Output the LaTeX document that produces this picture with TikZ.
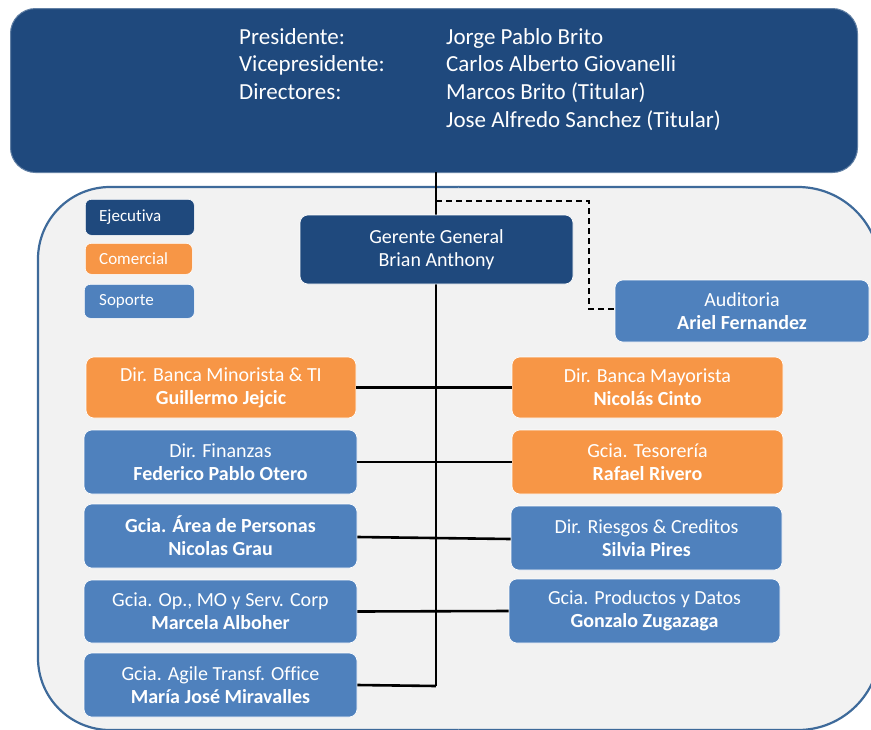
\documentclass[tikz,border=0pt]{standalone}
\usepackage{fontspec}
\setmainfont{Carlito}[Ligatures=NoCommon]
\definecolor{ejec}{HTML}{1F497D}
\definecolor{come}{HTML}{F79646}
\definecolor{sopo}{HTML}{4F81BD}
\definecolor{cont}{HTML}{F2F2F2}
\definecolor{contb}{HTML}{3E6A9A}
\tikzset{
  box/.style={rounded corners=8pt, text=white, align=center, inner sep=0pt,
    font=\fontsize{20}{23}\selectfont, draw=white, line width=0.6pt},
  ejbox/.style={box, fill=ejec},
  cobox/.style={box, fill=come},
  sobox/.style={box, fill=sopo},
  legbox/.style={rounded corners=6pt, text=white, inner sep=0pt, draw=white, line width=0.6pt,
    anchor=north west},
  legtext/.style={anchor=west, text=white, inner sep=0pt, font=\fontsize{17}{19}\selectfont},
  conn/.style={draw=black, line width=2.6pt},
  dconn/.style={draw=black, line width=2.6pt, dash pattern=on 6pt off 4pt},
  contframe/.style={fill=cont, draw=contb, line width=2.2pt}
}
\begin{document}
\begin{tikzpicture}[x=1pt,y=-1pt]
\useasboundingbox (0,0) rectangle (871,729);
% container: left corners r=72, right corners r=82
\begin{scope}
\clip (0,0) rectangle (459,729);
\path[contframe, rounded corners=72pt] (38,187) rectangle (880,730);
\end{scope}
\begin{scope}
\clip (458.5,0) rectangle (871,729);
\path[contframe, rounded corners=82pt] (38,187) rectangle (880,730);
\end{scope}
% top board
\node[fill=ejec, draw=ejec!70!white, line width=1pt, rounded corners=25pt, minimum width=847pt, minimum height=164pt, inner sep=0pt, anchor=north west] (board) at (10,8) {};
\node[anchor=north west, text=white, align=left, inner sep=0pt, font=\fontsize{23}{27.7}\selectfont] (roles) at (239,28)
  {Presidente:\\Vicepresidente:\\Directores:};
\node[anchor=north west, text=white, align=left, inner sep=0pt, font=\fontsize{23}{27.7}\selectfont] (names) at (446,28)
  {Jorge Pablo Brito\\Carlos Alberto Giovanelli\\Marcos Brito (Titular)\\Jose Alfredo Sanchez (Titular)};
% legend
\node[legbox, fill=ejec, minimum width=109pt, minimum height=36pt] (lej) at (85,199) {};
\node[legtext] (lejt) at (99,217) {Ejecutiva};
\node[legbox, fill=come, minimum width=107pt, minimum height=31pt] (lco) at (85,243) {};
\node[legtext] (lcot) at (99,259) {Comercial};
\node[legbox, fill=sopo, minimum width=110pt, minimum height=34pt] (lso) at (84,284) {};
\node[legtext] (lsot) at (99,301) {Soporte};
% connectors (drawn first)
\coordinate (vtop) at (436,172);
\coordinate (vbot) at (436,686);
\coordinate (dstart) at (436,201);
\coordinate (dc1) at (589,201);
\coordinate (dc2) at (589,309);
\draw[conn] (vtop) -- (vbot);
% nodes
\node[ejbox, minimum width=273pt, minimum height=69pt] (gg) at (436.5,249.5) {Gerente General\\Brian Anthony};
\node[sobox, minimum width=254pt, minimum height=62pt] (aud) at (742,311) {Auditoria\\\textbf{Ariel Fernandez}};
\node[cobox, minimum width=270pt, minimum height=61pt] (min) at (221,387.5) {Dir. Banca Minorista \& TI\\\textbf{Guillermo Jejcic}};
\node[sobox, minimum width=273pt, minimum height=64pt] (fin) at (220.5,462) {Dir. Finanzas\\\textbf{Federico Pablo Otero}};
\node[sobox, minimum width=273pt, minimum height=64pt] (per) at (220.5,536) {\textbf{Gcia. Área de Personas}\\\textbf{Nicolas Grau}};
\node[sobox, minimum width=273pt, minimum height=63pt] (op) at (220.5,611.5) {Gcia. Op., MO y Serv. Corp\\\textbf{Marcela Alboher}};
\node[sobox, minimum width=273pt, minimum height=64pt] (agi) at (220.5,685) {Gcia. Agile Transf. Office\\\textbf{María José Miravalles}};
\node[cobox, minimum width=271pt, minimum height=61pt] (may) at (647.5,387.5) {Dir. Banca Mayorista\\\textbf{Nicolás Cinto}};
\node[cobox, minimum width=271pt, minimum height=64pt] (tes) at (647.5,462) {Gcia. Tesorería\\\textbf{Rafael Rivero}};
\node[sobox, minimum width=271pt, minimum height=64pt] (rie) at (646.5,538) {Dir. Riesgos \& Creditos\\\textbf{Silvia Pires}};
\node[sobox, minimum width=271pt, minimum height=64pt] (pro) at (644.5,611) {Gcia. Productos y Datos\\\textbf{Gonzalo Zugazaga}};
% horizontal connectors
\draw[conn] (min.east) -- (may.west);
\draw[conn] (fin.east) -- (tes.west);
\draw[conn] ([yshift=-1pt]per.east) -- ([yshift=-1pt]rie.west);
\draw[conn] (op.east) -- (pro.west);
\draw[conn] (agi.east) -- (vbot);
\draw[dconn] (dstart) -- (dc1) -- (dc2) -- (aud.west |- dc2);
\end{tikzpicture}
\end{document}
